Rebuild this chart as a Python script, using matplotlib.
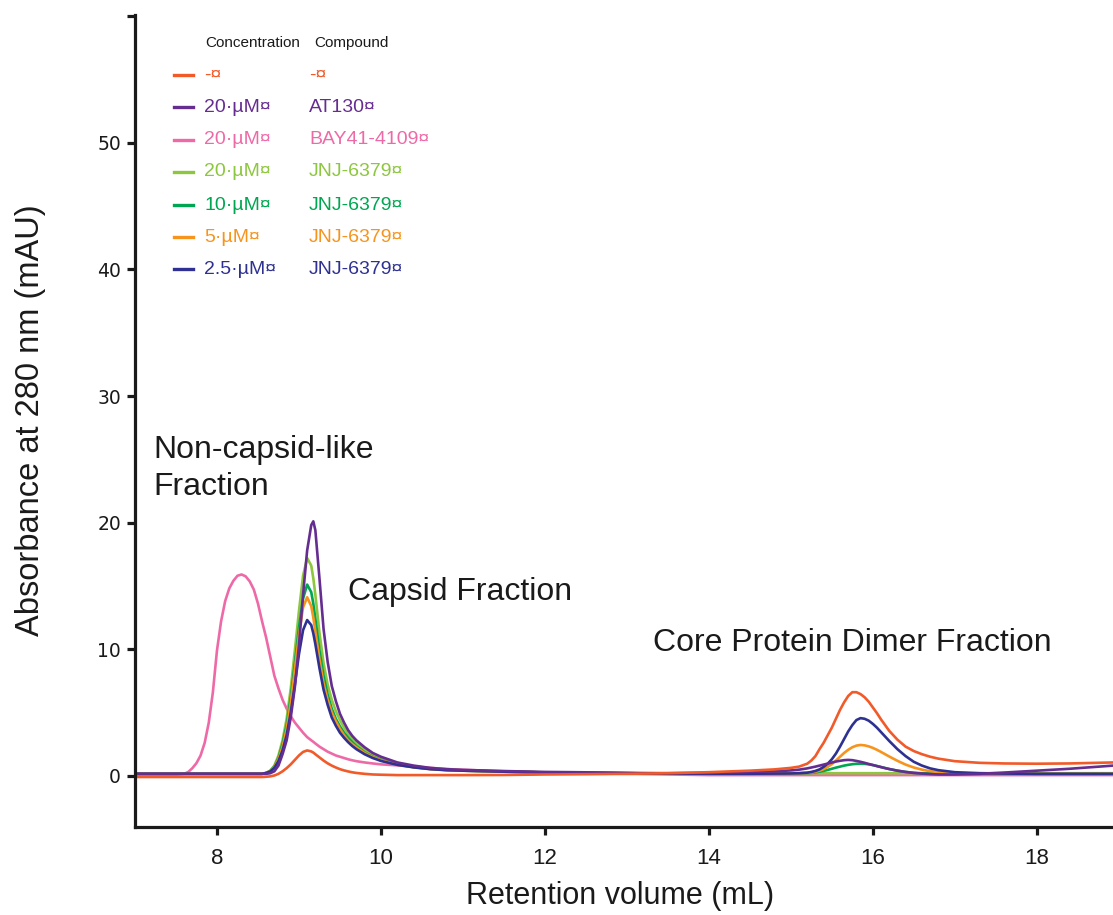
import matplotlib
matplotlib.use("Agg")
import matplotlib.pyplot as plt
from matplotlib.lines import Line2D

# ---------------- data ----------------
volume_ml = [7.0, 7.3, 7.5, 7.6, 7.65, 7.7, 7.75, 7.8, 7.85, 7.9, 7.95,
             8.0, 8.05, 8.1, 8.15, 8.2, 8.25, 8.3, 8.35, 8.4, 8.45, 8.5,
             8.55, 8.6, 8.65, 8.7, 8.75, 8.8, 8.85, 8.9, 8.95, 9.0, 9.05,
             9.1, 9.15, 9.175, 9.2, 9.25, 9.3, 9.35, 9.4, 9.45, 9.5, 9.55, 9.6,
             9.65, 9.7, 9.8, 9.9, 10.0, 10.2, 10.4, 10.6, 10.8, 11.0, 11.5,
             12.0, 12.5, 13.0, 13.5, 14.0, 14.5, 14.8, 15.0, 15.1, 15.2, 15.25,
             15.3, 15.35, 15.4, 15.45, 15.5, 15.55, 15.6, 15.65, 15.7, 15.75, 15.8,
             15.85, 15.9, 15.95, 16.0, 16.05, 16.1, 16.15, 16.2, 16.3, 16.4, 16.5,
             16.6, 16.7, 16.8, 17.0, 17.3, 17.6, 18.0, 18.4, 18.93]

no_compound = [-0.1, -0.1, -0.1, -0.1, -0.1, -0.1, -0.1, -0.1, -0.1, -0.1, -0.1,
               -0.1, -0.1, -0.1, -0.1, -0.1, -0.1, -0.1, -0.1, -0.1, -0.1, -0.1,
               -0.1, -0.08, -0.05, 0.02, 0.15, 0.35, 0.6, 0.9, 1.25, 1.6, 1.88,
               2.0, 1.92, 1.83, 1.7, 1.45, 1.2, 0.98, 0.8, 0.65, 0.52, 0.42, 0.34,
               0.27, 0.22, 0.15, 0.1, 0.08, 0.05, 0.05, 0.05, 0.05, 0.05, 0.06,
               0.1, 0.12, 0.15, 0.2, 0.28, 0.4, 0.5, 0.62, 0.72, 0.95, 1.2,
               1.55, 2.1, 2.6, 3.2, 3.8, 4.5, 5.2, 5.8, 6.3, 6.6, 6.6,
               6.45, 6.2, 5.85, 5.4, 4.95, 4.45, 4.0, 3.55, 2.85, 2.3, 1.95,
               1.7, 1.5, 1.35, 1.15, 1.02, 0.97, 0.95, 0.97, 1.05]

at130_20uM = [0.15, 0.15, 0.15, 0.15, 0.15, 0.15, 0.15, 0.15, 0.15, 0.15, 0.15,
              0.15, 0.15, 0.15, 0.15, 0.15, 0.15, 0.15, 0.15, 0.15, 0.15, 0.15,
              0.15, 0.15, 0.2, 0.35, 0.8, 1.7, 2.8, 4.6, 7.0, 10.3, 14.3,
              17.8, 19.8, 20.1, 19.4, 15.6, 11.6, 9.0, 7.1, 5.9, 4.9, 4.2, 3.6,
              3.15, 2.8, 2.25, 1.8, 1.5, 1.05, 0.8, 0.62, 0.52, 0.46, 0.37,
              0.3, 0.27, 0.22, 0.2, 0.22, 0.3, 0.35, 0.42, 0.48, 0.58, 0.65,
              0.72, 0.8, 0.88, 0.96, 1.04, 1.12, 1.18, 1.23, 1.25, 1.23, 1.17,
              1.1, 1.02, 0.93, 0.85, 0.76, 0.68, 0.6, 0.53, 0.4, 0.3, 0.22,
              0.17, 0.13, 0.1, 0.1, 0.15, 0.25, 0.4, 0.55, 0.8]

bay41_20uM = [0.1, 0.1, 0.1, 0.15, 0.3, 0.6, 1.0, 1.6, 2.6, 4.2, 6.6,
              9.9, 12.2, 13.8, 14.8, 15.4, 15.8, 15.9, 15.75, 15.35, 14.7, 13.6,
              12.2, 10.9, 9.4, 7.9, 6.9, 6.0, 5.3, 4.7, 4.2, 3.8, 3.4,
              3.05, 2.8, 2.68, 2.55, 2.3, 2.1, 1.9, 1.75, 1.6, 1.5, 1.4, 1.3,
              1.22, 1.15, 1.05, 0.97, 0.9, 0.82, 0.72, 0.62, 0.53, 0.47, 0.35,
              0.25, 0.2, 0.15, 0.1, 0.05, 0.05, 0.05, 0.05, 0.05, 0.05, 0.05,
              0.05, 0.05, 0.05, 0.05, 0.05, 0.05, 0.05, 0.05, 0.05, 0.05, 0.05,
              0.05, 0.05, 0.05, 0.05, 0.05, 0.05, 0.05, 0.05, 0.05, 0.05, 0.05,
              0.05, 0.05, 0.05, 0.05, 0.05, 0.05, 0.05, 0.05, 0.05]

jnj_20uM = [0.15, 0.15, 0.15, 0.15, 0.15, 0.15, 0.15, 0.15, 0.15, 0.15, 0.15,
            0.15, 0.15, 0.15, 0.15, 0.15, 0.15, 0.15, 0.15, 0.15, 0.15, 0.15,
            0.15, 0.22, 0.4, 0.8, 1.6, 2.8, 4.5, 6.9, 9.9, 13.0, 15.8,
            17.2, 16.6, 15.6, 14.3, 11.3, 8.9, 7.2, 6.0, 5.1, 4.4, 3.8, 3.3,
            2.9, 2.6, 2.05, 1.65, 1.38, 0.97, 0.74, 0.58, 0.48, 0.42, 0.33,
            0.27, 0.23, 0.2, 0.18, 0.18, 0.2, 0.2, 0.2, 0.2, 0.2, 0.2,
            0.2, 0.2, 0.2, 0.2, 0.2, 0.2, 0.2, 0.2, 0.2, 0.2, 0.2,
            0.2, 0.2, 0.2, 0.2, 0.2, 0.2, 0.2, 0.2, 0.2, 0.2, 0.2,
            0.2, 0.2, 0.2, 0.2, 0.2, 0.2, 0.2, 0.2, 0.2]

jnj_10uM = [0.15, 0.15, 0.15, 0.15, 0.15, 0.15, 0.15, 0.15, 0.15, 0.15, 0.15,
            0.15, 0.15, 0.15, 0.15, 0.15, 0.15, 0.15, 0.15, 0.15, 0.15, 0.15,
            0.15, 0.22, 0.38, 0.72, 1.4, 2.5, 4.0, 6.2, 8.9, 11.7, 14.0,
            15.1, 14.5, 13.6, 12.4, 9.9, 7.9, 6.4, 5.3, 4.5, 3.9, 3.4, 3.0,
            2.65, 2.35, 1.85, 1.5, 1.25, 0.9, 0.68, 0.54, 0.45, 0.4, 0.32,
            0.26, 0.22, 0.2, 0.17, 0.16, 0.16, 0.17, 0.18, 0.19, 0.21, 0.23,
            0.27, 0.32, 0.38, 0.46, 0.55, 0.64, 0.72, 0.8, 0.86, 0.91, 0.94,
            0.95, 0.94, 0.9, 0.84, 0.77, 0.69, 0.61, 0.53, 0.4, 0.3, 0.23,
            0.19, 0.17, 0.16, 0.15, 0.15, 0.15, 0.15, 0.15, 0.15]

jnj_5uM = [0.15, 0.15, 0.15, 0.15, 0.15, 0.15, 0.15, 0.15, 0.15, 0.15, 0.15,
           0.15, 0.15, 0.15, 0.15, 0.15, 0.15, 0.15, 0.15, 0.15, 0.15, 0.15,
           0.15, 0.22, 0.36, 0.68, 1.3, 2.3, 3.7, 5.8, 8.4, 11.1, 13.3,
           14.1, 13.4, 12.5, 11.4, 9.2, 7.3, 6.0, 5.0, 4.3, 3.7, 3.2, 2.8,
           2.5, 2.25, 1.8, 1.47, 1.22, 0.88, 0.67, 0.53, 0.45, 0.4, 0.32,
           0.26, 0.22, 0.2, 0.17, 0.16, 0.16, 0.17, 0.18, 0.2, 0.23, 0.26,
           0.32, 0.4, 0.52, 0.7, 0.92, 1.2, 1.5, 1.8, 2.05, 2.25, 2.38,
           2.43, 2.4, 2.32, 2.2, 2.05, 1.88, 1.7, 1.52, 1.18, 0.88, 0.65,
           0.48, 0.36, 0.28, 0.2, 0.16, 0.15, 0.15, 0.15, 0.15]

jnj_2_5uM = [0.15, 0.15, 0.15, 0.15, 0.15, 0.15, 0.15, 0.15, 0.15, 0.15, 0.15,
             0.15, 0.15, 0.15, 0.15, 0.15, 0.15, 0.15, 0.15, 0.15, 0.15, 0.15,
             0.15, 0.22, 0.34, 0.62, 1.15, 2.0, 3.2, 5.0, 7.2, 9.6, 11.5,
             12.3, 11.9, 11.25, 10.4, 8.5, 6.8, 5.6, 4.6, 3.95, 3.4, 3.0, 2.65,
             2.35, 2.1, 1.7, 1.4, 1.17, 0.86, 0.66, 0.52, 0.44, 0.4, 0.32,
             0.26, 0.22, 0.2, 0.17, 0.16, 0.16, 0.17, 0.18, 0.2, 0.24, 0.3,
             0.38, 0.5, 0.7, 0.95, 1.3, 1.75, 2.3, 2.9, 3.5, 4.0, 4.4,
             4.55, 4.5, 4.35, 4.1, 3.8, 3.45, 3.1, 2.75, 2.1, 1.55, 1.1,
             0.8, 0.58, 0.44, 0.28, 0.2, 0.17, 0.15, 0.15, 0.15]

concentrations = ["-", "20\u00b7\u00b5M", "20\u00b7\u00b5M", "20\u00b7\u00b5M",
                  "10\u00b7\u00b5M", "5\u00b7\u00b5M", "2.5\u00b7\u00b5M"]
compounds = ["-", "AT130", "BAY41-4109", "JNJ-6379", "JNJ-6379", "JNJ-6379", "JNJ-6379"]

x_ticks = [8, 10, 12, 14, 16, 18]
y_ticks = [0, 10, 20, 30, 40, 50, 60]
y_tick_labels = ["0", "10", "20", "30", "40", "50", ""]

# ---------------- style ----------------
colors = ["#F15A29", "#662D91", "#EE6AA7", "#8DC63F", "#00A651", "#F7941D", "#2E3192"]
series = [no_compound, at130_20uM, bay41_20uM, jnj_20uM, jnj_10uM, jnj_5uM, jnj_2_5uM]
draw_order = [2, 3, 4, 5, 6, 1, 0]

narrow = ["Liberation Sans Narrow", "Liberation Sans", "DejaVu Sans"]
regular = ["Liberation Sans", "DejaVu Sans"]
ink = "#1a1a1a"

W, H = 1113, 915
fig = plt.figure(figsize=(W / 100, H / 100), dpi=100)
ax = fig.add_axes([135 / W, 1 - 827 / H, 1 - 135 / W, (827 - 15) / H])

for i in draw_order:
    ax.plot(volume_ml, series[i], color=colors[i], lw=1.9, solid_capstyle="round",
            solid_joinstyle="round")

ax.set_xlim(7.0, 18.93)
ax.set_ylim(-4.05, 60.1)
ax.set_xticks(x_ticks)
ax.set_yticks(y_ticks)
ax.set_yticklabels(y_tick_labels)

for s in ["top", "right"]:
    ax.spines[s].set_visible(False)
for s in ["left", "bottom"]:
    ax.spines[s].set_linewidth(2.3)
    ax.spines[s].set_color(ink)
ax.tick_params(direction="out", length=6, width=2.3, color=ink)
ax.tick_params(axis="y", pad=4)
ax.tick_params(axis="x", pad=9)
for lab in ax.get_yticklabels():
    lab.set_family(["DejaVu Sans"])
    lab.set_fontsize(13.5)
    lab.set_color(ink)
for lab in ax.get_xticklabels():
    lab.set_family(narrow)
    lab.set_fontsize(16)
    lab.set_color(ink)

ax.set_xlabel("Retention volume (mL)", family=narrow, fontsize=22, color=ink)
ax.xaxis.set_label_coords((620 - 135) / 978, (827 - 881) / 812)
ax.set_ylabel("Absorbance at 280 nm (mAU)", family=narrow, fontsize=23.5, color=ink)
ax.yaxis.set_label_coords((46 - 135) / 978, (827 - 420) / 812)

# annotations
ax.text(7.22, 21.6, "Non-capsid-like\nFraction", family=regular, fontsize=23,
        color=ink, ha="left", va="bottom", linespacing=1.32)
ax.text(9.6, 14.55, "Capsid Fraction", family=regular, fontsize=23, color=ink,
        ha="left", va="center")
ax.text(13.32, 10.45, "Core Protein Dimer Fraction", family=regular, fontsize=23,
        color=ink, ha="left", va="center")

# legend (manual)
def fy(py):
    return 1 - py / H

fig.text(205 / W, fy(43), "Concentration", family=regular, fontsize=11,
         color=ink, va="center", ha="left")
fig.text(314 / W, fy(43), "Compound", family=regular, fontsize=11,
         color=ink, va="center", ha="left")
row_y = [75, 107, 140, 172, 205, 237, 269]
for i in range(7):
    y = fy(row_y[i])
    fig.add_artist(Line2D([174 / W, 193 / W], [y, y], transform=fig.transFigure,
                          color=colors[i], lw=2.4))
    fig.text(204 / W, y, concentrations[i] + "\u00a4", family=regular, fontsize=14,
             color=colors[i], va="center", ha="left")
    fig.text(309 / W, y, compounds[i] + "\u00a4", family=regular, fontsize=14,
             color=colors[i], va="center", ha="left")

fig.savefig("out.png", dpi=100)
